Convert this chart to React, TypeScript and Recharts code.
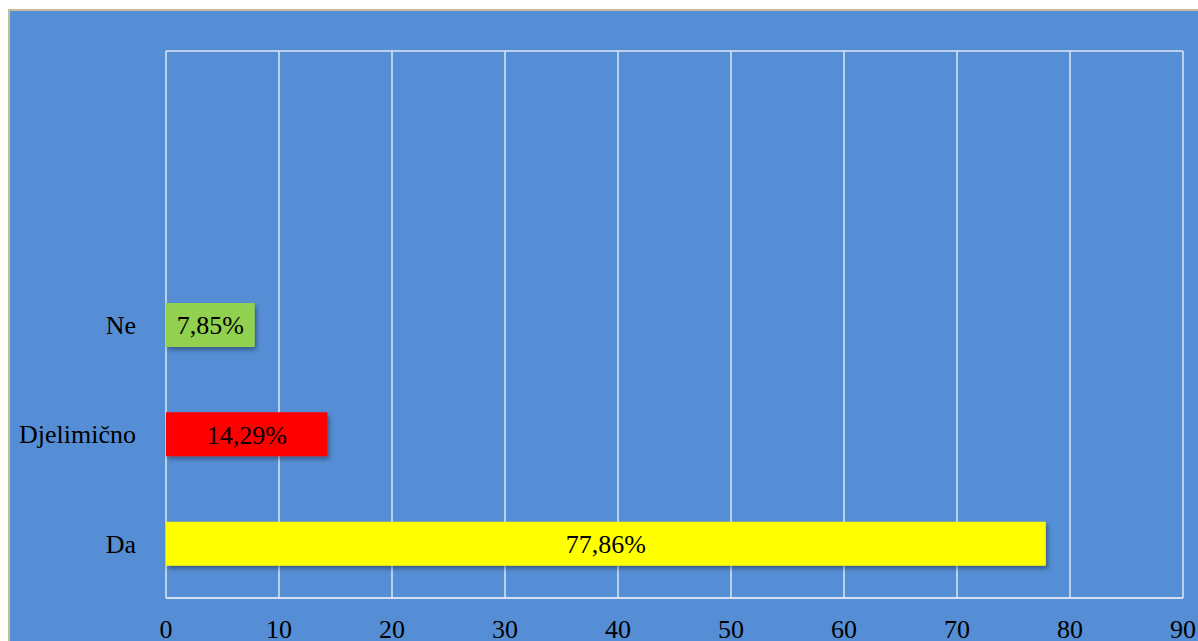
import { BarChart, Bar, XAxis, YAxis, CartesianGrid, Cell, LabelList } from "recharts"

const categories = ["Ne", "Djelimično", "Da"]
const percentages = [7.85, 14.29, 77.86]
const barColors = ["#92D050", "#FF0000", "#FFFF00"]
const xTicks = [0, 10, 20, 30, 40, 50, 60, 70, 80, 90]

const chartData = categories.map((name, i) => ({
  name,
  value: percentages[i],
}))

const font = "'Liberation Serif', 'Times New Roman', serif"
const gridColor = "#DCE6F2"

const formatPct = (v: any) => Number(v).toFixed(2).replace(".", ",") + "%"

export default function App() {
  return (
    <div style={{ position: "absolute", left: 0, top: 0, width: 1198, height: 641, background: "#fff", overflow: "hidden", fontFamily: font }}>
      {/* chart area panel */}
      <div
        style={{
          position: "absolute",
          left: 8,
          top: 9,
          width: 1210,
          height: 660,
          background: "#558ED5",
          borderTop: "2px solid #C4BD97",
          borderLeft: "2px solid #C4BD97",
        }}
      />
      <div style={{ position: "absolute", left: 0, top: 0 }}>
        <BarChart
          width={1198}
          height={641}
          data={chartData}
          layout="vertical"
          margin={{ top: 51, right: 15, bottom: 0, left: 0 }}
        >
          <defs>
            <filter id="barShadow" x="-10%" y="-20%" width="130%" height="160%">
              <feDropShadow dx="2" dy="3" stdDeviation="2" floodColor="#000" floodOpacity="0.35" />
            </filter>
          </defs>
          {/* vertical gridlines plus the top and bottom edge of the plot */}
          <CartesianGrid
            stroke={gridColor}
            strokeWidth={1.5}
            horizontalCoordinatesGenerator={({ offset }: any) => [offset.top, offset.top + offset.height]}
          />
          <XAxis
            type="number"
            domain={[0, 90]}
            ticks={xTicks}
            interval={0}
            height={43}
            tickSize={0}
            tickMargin={22}
            tickLine={false}
            axisLine={{ stroke: gridColor, strokeWidth: 1.5 }}
            tick={{ fill: "#000", fontSize: 26, fontFamily: font }}
          />
          <YAxis
            type="category"
            dataKey="name"
            width={166}
            padding={{ top: 219, bottom: 0 }}
            tickSize={0}
            tickMargin={30}
            tickLine={false}
            axisLine={false}
            tick={{ fill: "#000", fontSize: 26, fontFamily: font }}
          />
          <Bar dataKey="value" barSize={44} isAnimationActive={false} style={{ filter: "url(#barShadow)" }}>
            {chartData.map((d, i) => (
              <Cell key={d.name} fill={barColors[i]} />
            ))}
            <LabelList
              dataKey="value"
              position="center"
              formatter={formatPct}
              style={{ fill: "#000", fontSize: 26, fontFamily: font }}
            />
          </Bar>
        </BarChart>
      </div>
    </div>
  )
}
